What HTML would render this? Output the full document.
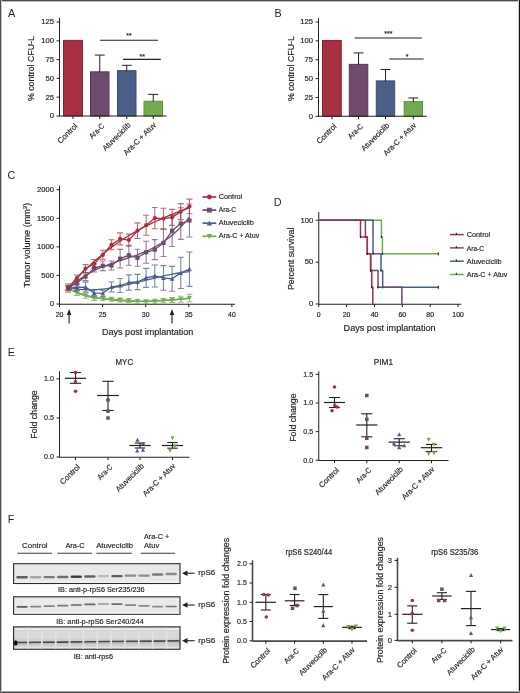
<!DOCTYPE html>
<html><head><meta charset="utf-8"><style>
html,body{margin:0;padding:0;background:#fff;}
svg{display:block;will-change:transform;}
text{font-family:"Liberation Sans", sans-serif;stroke:#231f20;stroke-width:0.18px;}
</style></head><body>
<svg width="520" height="693" viewBox="0 0 520 693">
<defs><filter id="bl" x="-20%" y="-100%" width="140%" height="300%"><feGaussianBlur stdDeviation="0.45"/></filter></defs>
<rect x="0.00" y="0.00" width="520.00" height="693.00" fill="#ffffff" />
<line x1="0.00" y1="0.50" x2="520.00" y2="0.50" stroke="#4a4a4a" stroke-width="1" />
<line x1="0.00" y1="1.50" x2="520.00" y2="1.50" stroke="#bdbdbd" stroke-width="1" />
<line x1="0.50" y1="0.00" x2="0.50" y2="693.00" stroke="#505050" stroke-width="1" />
<line x1="1.50" y1="0.00" x2="1.50" y2="693.00" stroke="#c4c4c4" stroke-width="1" />
<line x1="519.50" y1="0.00" x2="519.50" y2="693.00" stroke="#111111" stroke-width="1" />
<line x1="518.50" y1="0.00" x2="518.50" y2="693.00" stroke="#cfcfcf" stroke-width="1" />
<line x1="0.00" y1="692.50" x2="520.00" y2="692.50" stroke="#4a4a4a" stroke-width="1" />
<line x1="0.00" y1="691.50" x2="520.00" y2="691.50" stroke="#a8a8a8" stroke-width="1" />
<text x="8.00" y="16.70" font-size="10.8" text-anchor="start" fill="#231f20" style="stroke:none">A</text>
<text x="274.60" y="16.70" font-size="10.8" text-anchor="start" fill="#231f20" style="stroke:none">B</text>
<text x="7.60" y="179.20" font-size="10.8" text-anchor="start" fill="#231f20" style="stroke:none">C</text>
<text x="273.80" y="206.40" font-size="10.8" text-anchor="start" fill="#231f20" style="stroke:none">D</text>
<text x="7.80" y="355.60" font-size="10.8" text-anchor="start" fill="#231f20" style="stroke:none">E</text>
<text x="7.80" y="522.80" font-size="10.8" text-anchor="start" fill="#231f20" style="stroke:none">F</text>
<line x1="59.50" y1="18.00" x2="59.50" y2="116.50" stroke="#231f20" stroke-width="1" />
<line x1="56.50" y1="116.00" x2="59.50" y2="116.00" stroke="#231f20" stroke-width="1" />
<text x="53.90" y="118.30" font-size="7.8" text-anchor="end" fill="#231f20" textLength="4.25" lengthAdjust="spacingAndGlyphs" >0</text>
<line x1="56.50" y1="97.20" x2="59.50" y2="97.20" stroke="#231f20" stroke-width="1" />
<text x="53.90" y="99.50" font-size="7.8" text-anchor="end" fill="#231f20" textLength="8.50" lengthAdjust="spacingAndGlyphs" >25</text>
<line x1="56.50" y1="78.40" x2="59.50" y2="78.40" stroke="#231f20" stroke-width="1" />
<text x="53.90" y="80.70" font-size="7.8" text-anchor="end" fill="#231f20" textLength="8.50" lengthAdjust="spacingAndGlyphs" >50</text>
<line x1="56.50" y1="59.60" x2="59.50" y2="59.60" stroke="#231f20" stroke-width="1" />
<text x="53.90" y="61.90" font-size="7.8" text-anchor="end" fill="#231f20" textLength="8.50" lengthAdjust="spacingAndGlyphs" >75</text>
<line x1="56.50" y1="40.80" x2="59.50" y2="40.80" stroke="#231f20" stroke-width="1" />
<text x="53.90" y="43.10" font-size="7.8" text-anchor="end" fill="#231f20" textLength="12.75" lengthAdjust="spacingAndGlyphs" >100</text>
<line x1="56.50" y1="22.00" x2="59.50" y2="22.00" stroke="#231f20" stroke-width="1" />
<text x="53.90" y="24.30" font-size="7.8" text-anchor="end" fill="#231f20" textLength="12.75" lengthAdjust="spacingAndGlyphs" >125</text>
<rect x="63.50" y="40.40" width="19.00" height="75.60" fill="#a6303f" stroke="#8c2236" stroke-width="1" />
<line x1="73.00" y1="116.00" x2="73.00" y2="119.00" stroke="#231f20" stroke-width="1" />
<rect x="90.50" y="71.83" width="18.50" height="44.17" fill="#6e4a6c" stroke="#573553" stroke-width="1" />
<line x1="99.75" y1="55.09" x2="99.75" y2="72.23" stroke="#231f20" stroke-width="1" />
<line x1="94.75" y1="55.09" x2="104.75" y2="55.09" stroke="#231f20" stroke-width="1" />
<line x1="99.75" y1="116.00" x2="99.75" y2="119.00" stroke="#231f20" stroke-width="1" />
<rect x="117.50" y="70.63" width="18.50" height="45.37" fill="#4a6088" stroke="#3a4d72" stroke-width="1" />
<line x1="126.75" y1="65.32" x2="126.75" y2="71.03" stroke="#231f20" stroke-width="1" />
<line x1="121.75" y1="65.32" x2="131.75" y2="65.32" stroke="#231f20" stroke-width="1" />
<line x1="126.75" y1="116.00" x2="126.75" y2="119.00" stroke="#231f20" stroke-width="1" />
<rect x="144.00" y="101.24" width="18.50" height="14.76" fill="#72ab4f" stroke="#5e9240" stroke-width="1" />
<line x1="153.25" y1="94.34" x2="153.25" y2="101.64" stroke="#231f20" stroke-width="1" />
<line x1="148.25" y1="94.34" x2="158.25" y2="94.34" stroke="#231f20" stroke-width="1" />
<line x1="153.25" y1="116.00" x2="153.25" y2="119.00" stroke="#231f20" stroke-width="1" />
<line x1="59.50" y1="116.00" x2="166.70" y2="116.00" stroke="#231f20" stroke-width="1.1" />
<line x1="100.00" y1="40.20" x2="158.00" y2="40.20" stroke="#231f20" stroke-width="1.1" />
<text x="129.00" y="38.10" font-size="7" text-anchor="middle" fill="#231f20" >**</text>
<line x1="123.00" y1="59.40" x2="160.80" y2="59.40" stroke="#231f20" stroke-width="1.1" />
<text x="142.30" y="59.10" font-size="7" text-anchor="middle" fill="#231f20" >**</text>
<text x="34.50" y="68.60" font-size="8.6" text-anchor="middle" fill="#231f20" textLength="65.00" lengthAdjust="spacingAndGlyphs" transform="rotate(-90 34.50 68.60)" >% control CFU-L</text>
<text x="78.00" y="126.60" font-size="7.7" text-anchor="end" fill="#231f20" textLength="24.60" lengthAdjust="spacingAndGlyphs" transform="rotate(-45 78.00 126.60)" >Control</text>
<text x="104.75" y="126.60" font-size="7.7" text-anchor="end" fill="#231f20" textLength="17.80" lengthAdjust="spacingAndGlyphs" transform="rotate(-45 104.75 126.60)" >Ara-C</text>
<text x="131.15" y="125.60" font-size="7.7" text-anchor="end" fill="#231f20" textLength="36.30" lengthAdjust="spacingAndGlyphs" transform="rotate(-45 131.15 125.60)" >Atuveciclib</text>
<text x="156.65" y="125.60" font-size="7.7" text-anchor="end" fill="#231f20" textLength="42.80" lengthAdjust="spacingAndGlyphs" transform="rotate(-45 156.65 125.60)" >Ara-C + Atuv</text>
<line x1="318.50" y1="18.00" x2="318.50" y2="116.80" stroke="#231f20" stroke-width="1" />
<line x1="315.50" y1="116.30" x2="318.50" y2="116.30" stroke="#231f20" stroke-width="1" />
<text x="312.90" y="118.60" font-size="7.8" text-anchor="end" fill="#231f20" textLength="4.25" lengthAdjust="spacingAndGlyphs" >0</text>
<line x1="315.50" y1="97.44" x2="318.50" y2="97.44" stroke="#231f20" stroke-width="1" />
<text x="312.90" y="99.74" font-size="7.8" text-anchor="end" fill="#231f20" textLength="8.50" lengthAdjust="spacingAndGlyphs" >25</text>
<line x1="315.50" y1="78.58" x2="318.50" y2="78.58" stroke="#231f20" stroke-width="1" />
<text x="312.90" y="80.88" font-size="7.8" text-anchor="end" fill="#231f20" textLength="8.50" lengthAdjust="spacingAndGlyphs" >50</text>
<line x1="315.50" y1="59.72" x2="318.50" y2="59.72" stroke="#231f20" stroke-width="1" />
<text x="312.90" y="62.02" font-size="7.8" text-anchor="end" fill="#231f20" textLength="8.50" lengthAdjust="spacingAndGlyphs" >75</text>
<line x1="315.50" y1="40.86" x2="318.50" y2="40.86" stroke="#231f20" stroke-width="1" />
<text x="312.90" y="43.16" font-size="7.8" text-anchor="end" fill="#231f20" textLength="12.75" lengthAdjust="spacingAndGlyphs" >100</text>
<line x1="315.50" y1="22.00" x2="318.50" y2="22.00" stroke="#231f20" stroke-width="1" />
<text x="312.90" y="24.30" font-size="7.8" text-anchor="end" fill="#231f20" textLength="12.75" lengthAdjust="spacingAndGlyphs" >125</text>
<rect x="322.50" y="40.46" width="18.80" height="75.84" fill="#a6303f" stroke="#8c2236" stroke-width="1" />
<line x1="331.90" y1="116.30" x2="331.90" y2="119.30" stroke="#231f20" stroke-width="1" />
<rect x="349.30" y="64.37" width="18.50" height="51.93" fill="#6e4a6c" stroke="#573553" stroke-width="1" />
<line x1="358.55" y1="52.93" x2="358.55" y2="64.77" stroke="#231f20" stroke-width="1" />
<line x1="353.55" y1="52.93" x2="363.55" y2="52.93" stroke="#231f20" stroke-width="1" />
<line x1="358.55" y1="116.30" x2="358.55" y2="119.30" stroke="#231f20" stroke-width="1" />
<rect x="376.30" y="80.90" width="18.40" height="35.40" fill="#4a6088" stroke="#3a4d72" stroke-width="1" />
<line x1="385.50" y1="69.53" x2="385.50" y2="81.30" stroke="#231f20" stroke-width="1" />
<line x1="380.50" y1="69.53" x2="390.50" y2="69.53" stroke="#231f20" stroke-width="1" />
<line x1="385.50" y1="116.30" x2="385.50" y2="119.30" stroke="#231f20" stroke-width="1" />
<rect x="404.20" y="101.64" width="18.30" height="14.66" fill="#72ab4f" stroke="#5e9240" stroke-width="1" />
<line x1="413.35" y1="97.97" x2="413.35" y2="102.04" stroke="#231f20" stroke-width="1" />
<line x1="408.35" y1="97.97" x2="418.35" y2="97.97" stroke="#231f20" stroke-width="1" />
<line x1="413.35" y1="116.30" x2="413.35" y2="119.30" stroke="#231f20" stroke-width="1" />
<line x1="318.50" y1="116.30" x2="426.70" y2="116.30" stroke="#231f20" stroke-width="1.1" />
<line x1="354.50" y1="38.00" x2="422.00" y2="38.00" stroke="#231f20" stroke-width="1.1" />
<text x="388.30" y="35.90" font-size="7" text-anchor="middle" fill="#231f20" >***</text>
<line x1="389.20" y1="59.00" x2="423.60" y2="59.00" stroke="#231f20" stroke-width="1.1" />
<text x="407.00" y="58.70" font-size="7" text-anchor="middle" fill="#231f20" >*</text>
<text x="293.60" y="68.60" font-size="8.6" text-anchor="middle" fill="#231f20" textLength="65.00" lengthAdjust="spacingAndGlyphs" transform="rotate(-90 293.60 68.60)" >% control CFU-L</text>
<text x="336.90" y="126.90" font-size="7.7" text-anchor="end" fill="#231f20" textLength="24.60" lengthAdjust="spacingAndGlyphs" transform="rotate(-45 336.90 126.90)" >Control</text>
<text x="363.55" y="126.90" font-size="7.7" text-anchor="end" fill="#231f20" textLength="17.80" lengthAdjust="spacingAndGlyphs" transform="rotate(-45 363.55 126.90)" >Ara-C</text>
<text x="389.90" y="125.90" font-size="7.7" text-anchor="end" fill="#231f20" textLength="36.30" lengthAdjust="spacingAndGlyphs" transform="rotate(-45 389.90 125.90)" >Atuveciclib</text>
<text x="416.75" y="125.90" font-size="7.7" text-anchor="end" fill="#231f20" textLength="42.80" lengthAdjust="spacingAndGlyphs" transform="rotate(-45 416.75 125.90)" >Ara-C + Atuv</text>
<line x1="59.50" y1="185.80" x2="59.50" y2="304.50" stroke="#231f20" stroke-width="1" />
<line x1="56.50" y1="304.00" x2="59.50" y2="304.00" stroke="#231f20" stroke-width="1" />
<text x="53.90" y="306.30" font-size="7.8" text-anchor="end" fill="#231f20" textLength="4.25" lengthAdjust="spacingAndGlyphs" >0</text>
<line x1="56.50" y1="275.42" x2="59.50" y2="275.42" stroke="#231f20" stroke-width="1" />
<text x="53.90" y="277.72" font-size="7.8" text-anchor="end" fill="#231f20" textLength="12.75" lengthAdjust="spacingAndGlyphs" >500</text>
<line x1="56.50" y1="246.83" x2="59.50" y2="246.83" stroke="#231f20" stroke-width="1" />
<text x="53.90" y="249.13" font-size="7.8" text-anchor="end" fill="#231f20" textLength="17.00" lengthAdjust="spacingAndGlyphs" >1000</text>
<line x1="56.50" y1="218.25" x2="59.50" y2="218.25" stroke="#231f20" stroke-width="1" />
<text x="53.90" y="220.55" font-size="7.8" text-anchor="end" fill="#231f20" textLength="17.00" lengthAdjust="spacingAndGlyphs" >1500</text>
<line x1="56.50" y1="189.66" x2="59.50" y2="189.66" stroke="#231f20" stroke-width="1" />
<text x="53.90" y="191.96" font-size="7.8" text-anchor="end" fill="#231f20" textLength="17.00" lengthAdjust="spacingAndGlyphs" >2000</text>
<line x1="59.50" y1="304.30" x2="235.00" y2="304.30" stroke="#231f20" stroke-width="1.1" />
<line x1="59.50" y1="304.00" x2="59.50" y2="307.00" stroke="#231f20" stroke-width="1" />
<text x="59.50" y="317.20" font-size="6.9" text-anchor="middle" fill="#231f20" >20</text>
<line x1="102.60" y1="304.00" x2="102.60" y2="307.00" stroke="#231f20" stroke-width="1" />
<text x="102.60" y="317.20" font-size="6.9" text-anchor="middle" fill="#231f20" >25</text>
<line x1="145.70" y1="304.00" x2="145.70" y2="307.00" stroke="#231f20" stroke-width="1" />
<text x="145.70" y="317.20" font-size="6.9" text-anchor="middle" fill="#231f20" >30</text>
<line x1="188.80" y1="304.00" x2="188.80" y2="307.00" stroke="#231f20" stroke-width="1" />
<text x="188.80" y="317.20" font-size="6.9" text-anchor="middle" fill="#231f20" >35</text>
<line x1="231.90" y1="304.00" x2="231.90" y2="307.00" stroke="#231f20" stroke-width="1" />
<text x="231.90" y="317.20" font-size="6.9" text-anchor="middle" fill="#231f20" >40</text>
<text x="147.70" y="335.20" font-size="9.0" text-anchor="middle" fill="#231f20" textLength="91.30" lengthAdjust="spacingAndGlyphs" >Days post implantation</text>
<text x="30.20" y="245.20" font-size="9.3" text-anchor="middle" fill="#231f20" textLength="84.50" lengthAdjust="spacingAndGlyphs" transform="rotate(-90 30.20 245.20)" >Tumor volume (mm<tspan font-size="6" dy="-3.6">3</tspan><tspan dy="3.6">)</tspan></text>
<line x1="69.10" y1="314.00" x2="69.10" y2="323.50" stroke="#231f20" stroke-width="1.1" />
<polygon points="69.10,309 71.40,315 66.80,315" fill="#231f20"/>
<line x1="172.00" y1="314.00" x2="172.00" y2="323.50" stroke="#231f20" stroke-width="1.1" />
<polygon points="172.00,309 174.30,315 169.70,315" fill="#231f20"/>
<path d="M68.20,283.50V292.50M65.20,283.50H71.20M65.20,292.50H71.20" stroke="rgba(114,171,79,0.75)" stroke-width="1.1" fill="none"/>
<path d="M76.86,290.40V295.40M73.86,290.40H79.86M73.86,295.40H79.86" stroke="rgba(114,171,79,0.75)" stroke-width="1.1" fill="none"/>
<path d="M85.52,293.30V298.30M82.52,293.30H88.52M82.52,298.30H88.52" stroke="rgba(114,171,79,0.75)" stroke-width="1.1" fill="none"/>
<path d="M94.18,296.00V300.40M91.18,296.00H97.18M91.18,300.40H97.18" stroke="rgba(114,171,79,0.75)" stroke-width="1.1" fill="none"/>
<path d="M102.84,296.70V300.70M99.84,296.70H105.84M99.84,300.70H105.84" stroke="rgba(114,171,79,0.75)" stroke-width="1.1" fill="none"/>
<path d="M111.50,297.20V301.20M108.50,297.20H114.50M108.50,301.20H114.50" stroke="rgba(114,171,79,0.75)" stroke-width="1.1" fill="none"/>
<path d="M120.16,298.00V302.00M117.16,298.00H123.16M117.16,302.00H123.16" stroke="rgba(114,171,79,0.75)" stroke-width="1.1" fill="none"/>
<path d="M128.82,298.50V302.50M125.82,298.50H131.82M125.82,302.50H131.82" stroke="rgba(114,171,79,0.75)" stroke-width="1.1" fill="none"/>
<path d="M137.48,299.20V303.20M134.48,299.20H140.48M134.48,303.20H140.48" stroke="rgba(114,171,79,0.75)" stroke-width="1.1" fill="none"/>
<path d="M146.14,299.70V303.70M143.14,299.70H149.14M143.14,303.70H149.14" stroke="rgba(114,171,79,0.75)" stroke-width="1.1" fill="none"/>
<path d="M154.80,299.20V303.20M151.80,299.20H157.80M151.80,303.20H157.80" stroke="rgba(114,171,79,0.75)" stroke-width="1.1" fill="none"/>
<path d="M163.46,298.30V302.70M160.46,298.30H166.46M160.46,302.70H166.46" stroke="rgba(114,171,79,0.75)" stroke-width="1.1" fill="none"/>
<path d="M172.12,297.50V302.50M169.12,297.50H175.12M169.12,302.50H175.12" stroke="rgba(114,171,79,0.75)" stroke-width="1.1" fill="none"/>
<path d="M180.78,296.20V302.20M177.78,296.20H183.78M177.78,302.20H183.78" stroke="rgba(114,171,79,0.75)" stroke-width="1.1" fill="none"/>
<path d="M189.44,294.20V301.80M186.44,294.20H192.44M186.44,301.80H192.44" stroke="rgba(114,171,79,0.75)" stroke-width="1.1" fill="none"/>
<polyline points="68.20,288.00 70.25,289.85 72.31,290.66 74.36,291.43 76.42,292.17 78.47,292.87 80.53,293.54 82.58,294.17 84.64,294.77 86.69,295.35 88.75,295.89 90.80,296.39 92.86,296.87 94.91,297.33 96.97,297.75 99.02,298.14 101.08,298.51 103.13,298.85 105.19,299.17 107.24,299.46 109.30,299.73 111.35,299.97 113.41,300.19 115.46,300.39 117.52,300.56 119.57,300.72 121.63,300.85 123.68,300.97 125.74,301.07 127.79,301.15 129.85,301.21 131.90,301.25 133.96,301.28 136.01,301.29 138.07,301.29 140.12,301.28 142.18,301.25 144.23,301.21 146.29,301.15 148.34,301.09 150.40,301.01 152.45,300.93 154.51,300.83 156.56,300.73 158.62,300.61 160.67,300.50 162.73,300.37 164.78,300.24 166.84,300.10 168.89,299.96 170.95,299.81 173.00,299.67 175.06,299.51 177.11,299.36 179.17,299.21 181.22,299.05 183.28,298.90 185.33,298.74 187.39,298.59 189.44,298.44" fill="none" stroke="#72ab4f" stroke-width="1.3" stroke-linejoin="round" />
<polyline points="68.20,288.00 76.86,292.90 85.52,295.80 94.18,298.20 102.84,298.70 111.50,299.20 120.16,300.00 128.82,300.50 137.48,301.20 146.14,301.70 154.80,301.20 163.46,300.50 172.12,300.00 180.78,299.20 189.44,298.00" fill="none" stroke="#72ab4f" stroke-width="1.3" stroke-linejoin="round" />
<polygon points="68.20,290.42 70.51,285.95 65.89,285.95" fill="#72ab4f"/>
<polygon points="76.86,295.31 79.17,290.85 74.55,290.85" fill="#72ab4f"/>
<polygon points="85.52,298.22 87.83,293.75 83.21,293.75" fill="#72ab4f"/>
<polygon points="94.18,300.62 96.49,296.15 91.87,296.15" fill="#72ab4f"/>
<polygon points="102.84,301.12 105.15,296.65 100.53,296.65" fill="#72ab4f"/>
<polygon points="111.50,301.62 113.81,297.15 109.19,297.15" fill="#72ab4f"/>
<polygon points="120.16,302.42 122.47,297.95 117.85,297.95" fill="#72ab4f"/>
<polygon points="128.82,302.92 131.13,298.45 126.51,298.45" fill="#72ab4f"/>
<polygon points="137.48,303.62 139.79,299.15 135.17,299.15" fill="#72ab4f"/>
<polygon points="146.14,304.12 148.45,299.65 143.83,299.65" fill="#72ab4f"/>
<polygon points="154.80,303.62 157.11,299.15 152.49,299.15" fill="#72ab4f"/>
<polygon points="163.46,302.92 165.77,298.45 161.15,298.45" fill="#72ab4f"/>
<polygon points="172.12,302.42 174.43,297.95 169.81,297.95" fill="#72ab4f"/>
<polygon points="180.78,301.62 183.09,297.15 178.47,297.15" fill="#72ab4f"/>
<polygon points="189.44,300.42 191.75,295.95 187.13,295.95" fill="#72ab4f"/>
<path d="M68.20,285.00V291.00M65.20,285.00H71.20M65.20,291.00H71.20" stroke="rgba(74,96,136,0.75)" stroke-width="1.1" fill="none"/>
<path d="M76.86,283.90V290.90M73.86,283.90H79.86M73.86,290.90H79.86" stroke="rgba(74,96,136,0.75)" stroke-width="1.1" fill="none"/>
<path d="M85.52,282.10V292.10M82.52,282.10H88.52M82.52,292.10H88.52" stroke="rgba(74,96,136,0.75)" stroke-width="1.1" fill="none"/>
<path d="M94.18,289.90V295.90M91.18,289.90H97.18M91.18,295.90H97.18" stroke="rgba(74,96,136,0.75)" stroke-width="1.1" fill="none"/>
<path d="M102.84,290.30V296.30M99.84,290.30H105.84M99.84,296.30H105.84" stroke="rgba(74,96,136,0.75)" stroke-width="1.1" fill="none"/>
<path d="M111.50,282.00V292.00M108.50,282.00H114.50M108.50,292.00H114.50" stroke="rgba(74,96,136,0.75)" stroke-width="1.1" fill="none"/>
<path d="M120.16,278.50V292.50M117.16,278.50H123.16M117.16,292.50H123.16" stroke="rgba(74,96,136,0.75)" stroke-width="1.1" fill="none"/>
<path d="M128.82,274.90V290.10M125.82,274.90H131.82M125.82,290.10H131.82" stroke="rgba(74,96,136,0.75)" stroke-width="1.1" fill="none"/>
<path d="M137.48,274.40V289.60M134.48,274.40H140.48M134.48,289.60H140.48" stroke="rgba(74,96,136,0.75)" stroke-width="1.1" fill="none"/>
<path d="M146.14,268.40V287.40M143.14,268.40H149.14M143.14,287.40H149.14" stroke="rgba(74,96,136,0.75)" stroke-width="1.1" fill="none"/>
<path d="M154.80,265.00V287.00M151.80,265.00H157.80M151.80,287.00H157.80" stroke="rgba(74,96,136,0.75)" stroke-width="1.1" fill="none"/>
<path d="M163.46,265.60V290.20M160.46,265.60H166.46M160.46,290.20H166.46" stroke="rgba(74,96,136,0.75)" stroke-width="1.1" fill="none"/>
<path d="M172.12,266.40V291.20M169.12,266.40H175.12M169.12,291.20H175.12" stroke="rgba(74,96,136,0.75)" stroke-width="1.1" fill="none"/>
<path d="M180.78,257.30V288.50M177.78,257.30H183.78M177.78,288.50H183.78" stroke="rgba(74,96,136,0.75)" stroke-width="1.1" fill="none"/>
<path d="M189.44,252.00V286.40M186.44,252.00H192.44M186.44,286.40H192.44" stroke="rgba(74,96,136,0.75)" stroke-width="1.1" fill="none"/>
<polyline points="68.20,288.00 70.25,287.87 72.31,288.27 74.36,288.62 76.42,288.93 78.47,289.18 80.53,289.39 82.58,289.55 84.64,289.67 86.69,289.75 88.75,289.79 90.80,289.79 92.86,289.75 94.91,289.67 96.97,289.56 99.02,289.41 101.08,289.23 103.13,289.03 105.19,288.79 107.24,288.52 109.30,288.23 111.35,287.92 113.41,287.58 115.46,287.21 117.52,286.83 119.57,286.43 121.63,286.01 123.68,285.58 125.74,285.13 127.79,284.66 129.85,284.19 131.90,283.70 133.96,283.20 136.01,282.70 138.07,282.19 140.12,281.68 142.18,281.16 144.23,280.64 146.29,280.12 148.34,279.60 150.40,279.09 152.45,278.57 154.51,278.07 156.56,277.56 158.62,277.07 160.67,276.59 162.73,276.12 164.78,275.66 166.84,275.21 168.89,274.78 170.95,274.37 173.00,273.98 175.06,273.60 177.11,273.25 179.17,272.92 181.22,272.61 183.28,272.33 185.33,272.07 187.39,271.84 189.44,271.65" fill="none" stroke="#4a6088" stroke-width="1.3" stroke-linejoin="round" />
<polyline points="68.20,288.00 76.86,287.40 85.52,287.10 94.18,292.90 102.84,293.30 111.50,287.00 120.16,285.50 128.82,282.50 137.48,282.00 146.14,277.90 154.80,276.00 163.46,277.90 172.12,278.80 180.78,272.90 189.44,269.20" fill="none" stroke="#4a6088" stroke-width="1.3" stroke-linejoin="round" />
<polygon points="68.20,285.58 70.51,290.05 65.89,290.05" fill="#4a6088"/>
<polygon points="76.86,284.98 79.17,289.45 74.55,289.45" fill="#4a6088"/>
<polygon points="85.52,284.69 87.83,289.15 83.21,289.15" fill="#4a6088"/>
<polygon points="94.18,290.48 96.49,294.95 91.87,294.95" fill="#4a6088"/>
<polygon points="102.84,290.88 105.15,295.35 100.53,295.35" fill="#4a6088"/>
<polygon points="111.50,284.58 113.81,289.05 109.19,289.05" fill="#4a6088"/>
<polygon points="120.16,283.08 122.47,287.55 117.85,287.55" fill="#4a6088"/>
<polygon points="128.82,280.08 131.13,284.55 126.51,284.55" fill="#4a6088"/>
<polygon points="137.48,279.58 139.79,284.05 135.17,284.05" fill="#4a6088"/>
<polygon points="146.14,275.48 148.45,279.95 143.83,279.95" fill="#4a6088"/>
<polygon points="154.80,273.58 157.11,278.05 152.49,278.05" fill="#4a6088"/>
<polygon points="163.46,275.48 165.77,279.95 161.15,279.95" fill="#4a6088"/>
<polygon points="172.12,276.38 174.43,280.85 169.81,280.85" fill="#4a6088"/>
<polygon points="180.78,270.48 183.09,274.95 178.47,274.95" fill="#4a6088"/>
<polygon points="189.44,266.78 191.75,271.25 187.13,271.25" fill="#4a6088"/>
<path d="M68.20,286.00V290.00M65.20,286.00H71.20M65.20,290.00H71.20" stroke="rgba(108,70,104,0.7)" stroke-width="1.1" fill="none"/>
<path d="M76.86,280.00V286.00M73.86,280.00H79.86M73.86,286.00H79.86" stroke="rgba(108,70,104,0.7)" stroke-width="1.1" fill="none"/>
<path d="M85.52,272.60V280.60M82.52,272.60H88.52M82.52,280.60H88.52" stroke="rgba(108,70,104,0.7)" stroke-width="1.1" fill="none"/>
<path d="M94.18,264.00V272.00M91.18,264.00H97.18M91.18,272.00H97.18" stroke="rgba(108,70,104,0.7)" stroke-width="1.1" fill="none"/>
<path d="M102.84,261.00V270.60M99.84,261.00H105.84M99.84,270.60H105.84" stroke="rgba(108,70,104,0.7)" stroke-width="1.1" fill="none"/>
<path d="M111.50,261.00V270.00M108.50,261.00H114.50M108.50,270.00H114.50" stroke="rgba(108,70,104,0.7)" stroke-width="1.1" fill="none"/>
<path d="M120.16,249.40V268.00M117.16,249.40H123.16M117.16,268.00H123.16" stroke="rgba(108,70,104,0.7)" stroke-width="1.1" fill="none"/>
<path d="M128.82,245.30V265.30M125.82,245.30H131.82M125.82,265.30H131.82" stroke="rgba(108,70,104,0.7)" stroke-width="1.1" fill="none"/>
<path d="M137.48,249.30V266.30M134.48,249.30H140.48M134.48,266.30H140.48" stroke="rgba(108,70,104,0.7)" stroke-width="1.1" fill="none"/>
<path d="M146.14,241.30V263.30M143.14,241.30H149.14M143.14,263.30H149.14" stroke="rgba(108,70,104,0.7)" stroke-width="1.1" fill="none"/>
<path d="M154.80,239.60V259.60M151.80,239.60H157.80M151.80,259.60H157.80" stroke="rgba(108,70,104,0.7)" stroke-width="1.1" fill="none"/>
<path d="M163.46,229.30V256.50M160.46,229.30H166.46M160.46,256.50H166.46" stroke="rgba(108,70,104,0.7)" stroke-width="1.1" fill="none"/>
<path d="M172.12,215.10V246.50M169.12,215.10H175.12M169.12,246.50H175.12" stroke="rgba(108,70,104,0.7)" stroke-width="1.1" fill="none"/>
<path d="M180.78,207.80V239.40M177.78,207.80H183.78M177.78,239.40H183.78" stroke="rgba(108,70,104,0.7)" stroke-width="1.1" fill="none"/>
<path d="M189.44,204.00V237.00M186.44,204.00H192.44M186.44,237.00H192.44" stroke="rgba(108,70,104,0.7)" stroke-width="1.1" fill="none"/>
<polyline points="68.20,288.00 70.25,286.85 72.31,285.03 74.36,283.31 76.42,281.67 78.47,280.12 80.53,278.65 82.58,277.25 84.64,275.92 86.69,274.66 88.75,273.46 90.80,272.33 92.86,271.25 94.91,270.23 96.97,269.25 99.02,268.32 101.08,267.44 103.13,266.59 105.19,265.78 107.24,265.00 109.30,264.24 111.35,263.51 113.41,262.80 115.46,262.11 117.52,261.43 119.57,260.76 121.63,260.09 123.68,259.43 125.74,258.76 127.79,258.09 129.85,257.41 131.90,256.71 133.96,256.00 136.01,255.27 138.07,254.52 140.12,253.73 142.18,252.92 144.23,252.07 146.29,251.18 148.34,250.25 150.40,249.27 152.45,248.24 154.51,247.16 156.56,246.02 158.62,244.82 160.67,243.56 162.73,242.22 164.78,240.82 166.84,239.34 168.89,237.78 170.95,236.13 173.00,234.40 175.06,232.58 177.11,230.67 179.17,228.66 181.22,226.54 183.28,224.32 185.33,221.99 187.39,219.55 189.44,217.00" fill="none" stroke="#6e4a6c" stroke-width="1.3" stroke-linejoin="round" />
<polyline points="68.20,288.00 76.86,283.00 85.52,276.60 94.18,268.00 102.84,265.80 111.50,265.50 120.16,258.70 128.82,255.30 137.48,257.80 146.14,252.30 154.80,249.60 163.46,242.90 172.12,230.80 180.78,223.60 189.44,220.50" fill="none" stroke="#6e4a6c" stroke-width="1.3" stroke-linejoin="round" />
<rect x="66.10" y="285.90" width="4.20" height="4.20" fill="#6e4a6c"/>
<rect x="74.76" y="280.90" width="4.20" height="4.20" fill="#6e4a6c"/>
<rect x="83.42" y="274.50" width="4.20" height="4.20" fill="#6e4a6c"/>
<rect x="92.08" y="265.90" width="4.20" height="4.20" fill="#6e4a6c"/>
<rect x="100.74" y="263.70" width="4.20" height="4.20" fill="#6e4a6c"/>
<rect x="109.40" y="263.40" width="4.20" height="4.20" fill="#6e4a6c"/>
<rect x="118.06" y="256.60" width="4.20" height="4.20" fill="#6e4a6c"/>
<rect x="126.72" y="253.20" width="4.20" height="4.20" fill="#6e4a6c"/>
<rect x="135.38" y="255.70" width="4.20" height="4.20" fill="#6e4a6c"/>
<rect x="144.04" y="250.20" width="4.20" height="4.20" fill="#6e4a6c"/>
<rect x="152.70" y="247.50" width="4.20" height="4.20" fill="#6e4a6c"/>
<rect x="161.36" y="240.80" width="4.20" height="4.20" fill="#6e4a6c"/>
<rect x="170.02" y="228.70" width="4.20" height="4.20" fill="#6e4a6c"/>
<rect x="178.68" y="221.50" width="4.20" height="4.20" fill="#6e4a6c"/>
<rect x="187.34" y="218.40" width="4.20" height="4.20" fill="#6e4a6c"/>
<path d="M68.20,286.00V290.00M65.20,286.00H71.20M65.20,290.00H71.20" stroke="rgba(163,45,66,0.7)" stroke-width="1.1" fill="none"/>
<path d="M76.86,275.00V281.00M73.86,275.00H79.86M73.86,281.00H79.86" stroke="rgba(163,45,66,0.7)" stroke-width="1.1" fill="none"/>
<path d="M85.52,264.60V272.60M82.52,264.60H88.52M82.52,272.60H88.52" stroke="rgba(163,45,66,0.7)" stroke-width="1.1" fill="none"/>
<path d="M94.18,259.50V268.50M91.18,259.50H97.18M91.18,268.50H97.18" stroke="rgba(163,45,66,0.7)" stroke-width="1.1" fill="none"/>
<path d="M102.84,250.30V259.30M99.84,250.30H105.84M99.84,259.30H105.84" stroke="rgba(163,45,66,0.7)" stroke-width="1.1" fill="none"/>
<path d="M111.50,239.80V249.80M108.50,239.80H114.50M108.50,249.80H114.50" stroke="rgba(163,45,66,0.7)" stroke-width="1.1" fill="none"/>
<path d="M120.16,232.90V244.90M117.16,232.90H123.16M117.16,244.90H123.16" stroke="rgba(163,45,66,0.7)" stroke-width="1.1" fill="none"/>
<path d="M128.82,234.10V246.10M125.82,234.10H131.82M125.82,246.10H131.82" stroke="rgba(163,45,66,0.7)" stroke-width="1.1" fill="none"/>
<path d="M137.48,222.90V238.50M134.48,222.90H140.48M134.48,238.50H140.48" stroke="rgba(163,45,66,0.7)" stroke-width="1.1" fill="none"/>
<path d="M146.14,215.20V235.20M143.14,215.20H149.14M143.14,235.20H149.14" stroke="rgba(163,45,66,0.7)" stroke-width="1.1" fill="none"/>
<path d="M154.80,207.50V228.70M151.80,207.50H157.80M151.80,228.70H157.80" stroke="rgba(163,45,66,0.7)" stroke-width="1.1" fill="none"/>
<path d="M163.46,208.30V228.90M160.46,208.30H166.46M160.46,228.90H166.46" stroke="rgba(163,45,66,0.7)" stroke-width="1.1" fill="none"/>
<path d="M172.12,209.40V225.40M169.12,209.40H175.12M169.12,225.40H175.12" stroke="rgba(163,45,66,0.7)" stroke-width="1.1" fill="none"/>
<path d="M180.78,203.60V219.60M177.78,203.60H183.78M177.78,219.60H183.78" stroke="rgba(163,45,66,0.7)" stroke-width="1.1" fill="none"/>
<path d="M189.44,199.10V213.70M186.44,199.10H192.44M186.44,213.70H192.44" stroke="rgba(163,45,66,0.7)" stroke-width="1.1" fill="none"/>
<polyline points="68.20,288.00 70.25,285.68 72.31,283.35 74.36,281.06 76.42,278.83 78.47,276.64 80.53,274.50 82.58,272.40 84.64,270.35 86.69,268.34 88.75,266.37 90.80,264.45 92.86,262.57 94.91,260.73 96.97,258.94 99.02,257.18 101.08,255.46 103.13,253.78 105.19,252.13 107.24,250.53 109.30,248.95 111.35,247.42 113.41,245.92 115.46,244.45 117.52,243.01 119.57,241.61 121.63,240.24 123.68,238.90 125.74,237.59 127.79,236.31 129.85,235.06 131.90,233.83 133.96,232.63 136.01,231.46 138.07,230.32 140.12,229.20 142.18,228.10 144.23,227.03 146.29,225.97 148.34,224.95 150.40,223.94 152.45,222.95 154.51,221.98 156.56,221.03 158.62,220.10 160.67,219.19 162.73,218.29 164.78,217.41 166.84,216.54 168.89,215.69 170.95,214.85 173.00,214.03 175.06,213.21 177.11,212.41 179.17,211.62 181.22,210.84 183.28,210.07 185.33,209.30 187.39,208.55 189.44,207.80" fill="none" stroke="#a6303f" stroke-width="1.3" stroke-linejoin="round" />
<polyline points="68.20,288.00 76.86,278.00 85.52,268.60 94.18,264.00 102.84,254.80 111.50,244.80 120.16,238.90 128.82,240.10 137.48,230.70 146.14,225.20 154.80,218.10 163.46,218.60 172.12,217.40 180.78,211.60 189.44,206.40" fill="none" stroke="#a6303f" stroke-width="1.3" stroke-linejoin="round" />
<circle cx="68.20" cy="288.00" r="2.10" fill="#a6303f"/>
<circle cx="76.86" cy="278.00" r="2.10" fill="#a6303f"/>
<circle cx="85.52" cy="268.60" r="2.10" fill="#a6303f"/>
<circle cx="94.18" cy="264.00" r="2.10" fill="#a6303f"/>
<circle cx="102.84" cy="254.80" r="2.10" fill="#a6303f"/>
<circle cx="111.50" cy="244.80" r="2.10" fill="#a6303f"/>
<circle cx="120.16" cy="238.90" r="2.10" fill="#a6303f"/>
<circle cx="128.82" cy="240.10" r="2.10" fill="#a6303f"/>
<circle cx="137.48" cy="230.70" r="2.10" fill="#a6303f"/>
<circle cx="146.14" cy="225.20" r="2.10" fill="#a6303f"/>
<circle cx="154.80" cy="218.10" r="2.10" fill="#a6303f"/>
<circle cx="163.46" cy="218.60" r="2.10" fill="#a6303f"/>
<circle cx="172.12" cy="217.40" r="2.10" fill="#a6303f"/>
<circle cx="180.78" cy="211.60" r="2.10" fill="#a6303f"/>
<circle cx="189.44" cy="206.40" r="2.10" fill="#a6303f"/>
<rect x="66.00" y="285.80" width="4.40" height="4.40" fill="#a6303f"/>
<line x1="202.50" y1="197.00" x2="216.30" y2="197.00" stroke="#a6303f" stroke-width="1.7" />
<circle cx="209.40" cy="197.00" r="2.40" fill="#a6303f"/>
<text x="218.80" y="199.10" font-size="7.6" text-anchor="start" fill="#231f20" textLength="23.40" lengthAdjust="spacingAndGlyphs" >Control</text>
<line x1="202.50" y1="210.10" x2="216.30" y2="210.10" stroke="#6e4a6c" stroke-width="1.7" />
<rect x="207.00" y="207.70" width="4.80" height="4.80" fill="#6e4a6c"/>
<text x="218.80" y="212.20" font-size="7.6" text-anchor="start" fill="#231f20" textLength="17.20" lengthAdjust="spacingAndGlyphs" >Ara-C</text>
<line x1="202.50" y1="223.20" x2="216.30" y2="223.20" stroke="#4a6088" stroke-width="1.7" />
<polygon points="209.40,220.44 212.04,225.55 206.76,225.55" fill="#4a6088"/>
<text x="218.80" y="225.30" font-size="7.6" text-anchor="start" fill="#231f20" textLength="35.00" lengthAdjust="spacingAndGlyphs" >Atuveciclib</text>
<line x1="202.50" y1="236.30" x2="216.30" y2="236.30" stroke="#72ab4f" stroke-width="1.7" />
<polygon points="209.40,239.06 212.04,233.95 206.76,233.95" fill="#72ab4f"/>
<text x="218.80" y="238.40" font-size="7.6" text-anchor="start" fill="#231f20" textLength="40.50" lengthAdjust="spacingAndGlyphs" >Ara-C + Atuv</text>
<line x1="318.75" y1="212.00" x2="318.75" y2="304.50" stroke="#231f20" stroke-width="1" />
<line x1="315.75" y1="304.00" x2="318.75" y2="304.00" stroke="#231f20" stroke-width="1" />
<text x="313.15" y="306.30" font-size="7.8" text-anchor="end" fill="#231f20" textLength="4.25" lengthAdjust="spacingAndGlyphs" >0</text>
<line x1="315.75" y1="262.12" x2="318.75" y2="262.12" stroke="#231f20" stroke-width="1" />
<text x="313.15" y="264.43" font-size="7.8" text-anchor="end" fill="#231f20" textLength="8.50" lengthAdjust="spacingAndGlyphs" >50</text>
<line x1="315.75" y1="220.25" x2="318.75" y2="220.25" stroke="#231f20" stroke-width="1" />
<text x="313.15" y="222.55" font-size="7.8" text-anchor="end" fill="#231f20" textLength="12.75" lengthAdjust="spacingAndGlyphs" >100</text>
<line x1="318.75" y1="304.30" x2="461.30" y2="304.30" stroke="#231f20" stroke-width="1.1" />
<line x1="318.75" y1="304.00" x2="318.75" y2="307.00" stroke="#231f20" stroke-width="1" />
<text x="318.75" y="317.20" font-size="6.9" text-anchor="middle" fill="#231f20" >0</text>
<line x1="346.61" y1="304.00" x2="346.61" y2="307.00" stroke="#231f20" stroke-width="1" />
<text x="346.61" y="317.20" font-size="6.9" text-anchor="middle" fill="#231f20" >20</text>
<line x1="374.47" y1="304.00" x2="374.47" y2="307.00" stroke="#231f20" stroke-width="1" />
<text x="374.47" y="317.20" font-size="6.9" text-anchor="middle" fill="#231f20" >40</text>
<line x1="402.33" y1="304.00" x2="402.33" y2="307.00" stroke="#231f20" stroke-width="1" />
<text x="402.33" y="317.20" font-size="6.9" text-anchor="middle" fill="#231f20" >60</text>
<line x1="430.19" y1="304.00" x2="430.19" y2="307.00" stroke="#231f20" stroke-width="1" />
<text x="430.19" y="317.20" font-size="6.9" text-anchor="middle" fill="#231f20" >80</text>
<line x1="458.05" y1="304.00" x2="458.05" y2="307.00" stroke="#231f20" stroke-width="1" />
<text x="458.05" y="317.20" font-size="6.9" text-anchor="middle" fill="#231f20" >100</text>
<text x="389.60" y="330.50" font-size="9.0" text-anchor="middle" fill="#231f20" textLength="92.00" lengthAdjust="spacingAndGlyphs" >Days post implantation</text>
<text x="294.50" y="258.80" font-size="8.3" text-anchor="middle" fill="#231f20" textLength="62.50" lengthAdjust="spacingAndGlyphs" transform="rotate(-90 294.50 258.80)" >Percent survival</text>
<polyline points="318.75,220.25 381.40,220.25 381.40,237.00 382.40,237.00 382.40,253.75 438.30,253.75" fill="none" stroke="#72ab4f" stroke-width="1.5" stroke-linejoin="miter"/>
<line x1="381.40" y1="235.80" x2="381.40" y2="238.20" stroke="#111" stroke-width="0.9" />
<line x1="382.40" y1="252.55" x2="382.40" y2="254.95" stroke="#111" stroke-width="0.9" />
<line x1="438.30" y1="252.25" x2="438.30" y2="255.25" stroke="#111" stroke-width="1" />
<polyline points="318.75,220.25 373.00,220.25 373.00,253.75 381.00,253.75 381.00,270.50 382.70,270.50 382.70,287.25 438.30,287.25" fill="none" stroke="#4a6088" stroke-width="1.5" stroke-linejoin="miter"/>
<line x1="373.00" y1="252.55" x2="373.00" y2="254.95" stroke="#111" stroke-width="0.9" />
<line x1="381.00" y1="269.30" x2="381.00" y2="271.70" stroke="#111" stroke-width="0.9" />
<line x1="382.70" y1="286.05" x2="382.70" y2="288.45" stroke="#111" stroke-width="0.9" />
<line x1="438.30" y1="285.75" x2="438.30" y2="288.75" stroke="#111" stroke-width="1" />
<polyline points="318.75,220.25 365.40,220.25 365.40,237.00 367.30,237.00 367.30,253.75 370.50,253.75 370.50,270.50 378.00,270.50 378.00,287.25 401.90,287.25 401.90,304.00" fill="none" stroke="#6e4a6c" stroke-width="1.5" stroke-linejoin="miter"/>
<line x1="365.40" y1="235.80" x2="365.40" y2="238.20" stroke="#111" stroke-width="0.9" />
<line x1="367.30" y1="252.55" x2="367.30" y2="254.95" stroke="#111" stroke-width="0.9" />
<line x1="370.50" y1="269.30" x2="370.50" y2="271.70" stroke="#111" stroke-width="0.9" />
<line x1="378.00" y1="286.05" x2="378.00" y2="288.45" stroke="#111" stroke-width="0.9" />
<polyline points="318.75,220.25 360.50,220.25 360.50,237.00 367.30,237.00 367.30,253.75 370.80,253.75 370.80,270.50 371.80,270.50 371.80,287.25 372.80,287.25 372.80,304.00" fill="none" stroke="#a6303f" stroke-width="1.5" stroke-linejoin="miter"/>
<line x1="360.50" y1="235.80" x2="360.50" y2="238.20" stroke="#111" stroke-width="0.9" />
<line x1="367.30" y1="252.55" x2="367.30" y2="254.95" stroke="#111" stroke-width="0.9" />
<line x1="370.80" y1="269.30" x2="370.80" y2="271.70" stroke="#111" stroke-width="0.9" />
<line x1="371.80" y1="286.05" x2="371.80" y2="288.45" stroke="#111" stroke-width="0.9" />
<line x1="450.00" y1="234.60" x2="463.80" y2="234.60" stroke="#a6303f" stroke-width="1.5" />
<line x1="456.30" y1="232.80" x2="456.30" y2="234.80" stroke="#111" stroke-width="1.0" />
<text x="466.80" y="237.20" font-size="7.6" text-anchor="start" fill="#231f20" textLength="23.40" lengthAdjust="spacingAndGlyphs" >Control</text>
<line x1="450.00" y1="247.90" x2="463.80" y2="247.90" stroke="#6e4a6c" stroke-width="1.5" />
<line x1="456.30" y1="246.10" x2="456.30" y2="248.10" stroke="#111" stroke-width="1.0" />
<text x="466.80" y="250.50" font-size="7.6" text-anchor="start" fill="#231f20" textLength="17.20" lengthAdjust="spacingAndGlyphs" >Ara-C</text>
<line x1="450.00" y1="261.20" x2="463.80" y2="261.20" stroke="#4a6088" stroke-width="1.5" />
<line x1="456.30" y1="259.40" x2="456.30" y2="261.40" stroke="#111" stroke-width="1.0" />
<text x="466.80" y="263.80" font-size="7.6" text-anchor="start" fill="#231f20" textLength="34.80" lengthAdjust="spacingAndGlyphs" >Atuveciclib</text>
<line x1="450.00" y1="274.50" x2="463.80" y2="274.50" stroke="#72ab4f" stroke-width="1.5" />
<line x1="456.30" y1="272.70" x2="456.30" y2="274.70" stroke="#111" stroke-width="1.0" />
<text x="466.80" y="277.10" font-size="7.6" text-anchor="start" fill="#231f20" textLength="40.60" lengthAdjust="spacingAndGlyphs" >Ara-C + Atuv</text>
<line x1="59.50" y1="371.30" x2="59.50" y2="457.50" stroke="#231f20" stroke-width="1.0" />
<line x1="56.50" y1="378.80" x2="59.50" y2="378.80" stroke="#231f20" stroke-width="1" />
<text x="53.90" y="381.10" font-size="7.8" text-anchor="end" fill="#231f20" textLength="9.80" lengthAdjust="spacingAndGlyphs" >1.0</text>
<line x1="56.50" y1="418.00" x2="59.50" y2="418.00" stroke="#231f20" stroke-width="1" />
<text x="53.90" y="420.30" font-size="7.8" text-anchor="end" fill="#231f20" textLength="9.80" lengthAdjust="spacingAndGlyphs" >0.5</text>
<line x1="56.50" y1="457.00" x2="59.50" y2="457.00" stroke="#231f20" stroke-width="1" />
<text x="53.90" y="459.30" font-size="7.8" text-anchor="end" fill="#231f20" textLength="9.80" lengthAdjust="spacingAndGlyphs" >0.0</text>
<line x1="59.50" y1="457.30" x2="189.50" y2="457.30" stroke="#231f20" stroke-width="1.1" />
<text x="124.30" y="365.00" font-size="9.2" text-anchor="middle" fill="#231f20" textLength="17.60" lengthAdjust="spacingAndGlyphs" >MYC</text>
<text x="36.80" y="414.50" font-size="8.3" text-anchor="middle" fill="#231f20" textLength="48.50" lengthAdjust="spacingAndGlyphs" transform="rotate(-90 36.80 414.50)" >Fold change</text>
<line x1="64.90" y1="378.30" x2="86.10" y2="378.30" stroke="#231f20" stroke-width="1.2" />
<line x1="75.50" y1="372.50" x2="75.50" y2="383.30" stroke="#231f20" stroke-width="1.1" />
<line x1="69.90" y1="372.50" x2="81.10" y2="372.50" stroke="#231f20" stroke-width="1.1" />
<line x1="69.90" y1="383.30" x2="81.10" y2="383.30" stroke="#231f20" stroke-width="1.1" />
<circle cx="75.50" cy="372.50" r="1.80" fill="#a6303f"/>
<circle cx="75.50" cy="381.80" r="1.80" fill="#a6303f"/>
<circle cx="75.50" cy="391.20" r="1.80" fill="#a6303f"/>
<line x1="97.10" y1="395.50" x2="118.90" y2="395.50" stroke="#231f20" stroke-width="1.2" />
<line x1="108.00" y1="381.30" x2="108.00" y2="410.50" stroke="#231f20" stroke-width="1.1" />
<line x1="102.40" y1="381.30" x2="113.60" y2="381.30" stroke="#231f20" stroke-width="1.1" />
<line x1="102.40" y1="410.50" x2="113.60" y2="410.50" stroke="#231f20" stroke-width="1.1" />
<rect x="106.25" y="398.25" width="3.50" height="3.50" fill="#6e4a6c"/>
<rect x="106.25" y="409.45" width="3.50" height="3.50" fill="#6e4a6c"/>
<rect x="106.25" y="416.25" width="3.50" height="3.50" fill="#6e4a6c"/>
<line x1="129.40" y1="445.50" x2="150.60" y2="445.50" stroke="#231f20" stroke-width="1.2" />
<line x1="140.00" y1="443.00" x2="140.00" y2="448.00" stroke="#231f20" stroke-width="1.1" />
<line x1="134.80" y1="443.00" x2="145.20" y2="443.00" stroke="#231f20" stroke-width="1.1" />
<line x1="134.80" y1="448.00" x2="145.20" y2="448.00" stroke="#231f20" stroke-width="1.1" />
<polygon points="137.50,437.81 139.59,441.86 135.41,441.86" fill="#4a6088"/>
<polygon points="143.00,441.51 145.09,445.56 140.91,445.56" fill="#4a6088"/>
<polygon points="137.20,448.51 139.29,452.56 135.11,452.56" fill="#4a6088"/>
<polygon points="143.00,447.81 145.09,451.86 140.91,451.86" fill="#4a6088"/>
<line x1="161.90" y1="445.50" x2="183.10" y2="445.50" stroke="#231f20" stroke-width="1.2" />
<line x1="172.50" y1="442.50" x2="172.50" y2="448.20" stroke="#231f20" stroke-width="1.1" />
<line x1="167.30" y1="442.50" x2="177.70" y2="442.50" stroke="#231f20" stroke-width="1.1" />
<line x1="167.30" y1="448.20" x2="177.70" y2="448.20" stroke="#231f20" stroke-width="1.1" />
<polygon points="172.50,440.19 174.59,436.14 170.41,436.14" fill="#72ab4f"/>
<polygon points="175.00,448.38 177.09,444.34 172.91,444.34" fill="#72ab4f"/>
<polygon points="170.00,452.88 172.09,448.84 167.91,448.84" fill="#72ab4f"/>
<line x1="75.50" y1="457.00" x2="75.50" y2="460.00" stroke="#231f20" stroke-width="1" />
<text x="80.50" y="467.60" font-size="7.7" text-anchor="end" fill="#231f20" textLength="24.60" lengthAdjust="spacingAndGlyphs" transform="rotate(-45 80.50 467.60)" >Control</text>
<line x1="108.00" y1="457.00" x2="108.00" y2="460.00" stroke="#231f20" stroke-width="1" />
<text x="113.00" y="467.60" font-size="7.7" text-anchor="end" fill="#231f20" textLength="17.80" lengthAdjust="spacingAndGlyphs" transform="rotate(-45 113.00 467.60)" >Ara-C</text>
<line x1="140.00" y1="457.00" x2="140.00" y2="460.00" stroke="#231f20" stroke-width="1" />
<text x="144.40" y="466.60" font-size="7.7" text-anchor="end" fill="#231f20" textLength="36.30" lengthAdjust="spacingAndGlyphs" transform="rotate(-45 144.40 466.60)" >Atuveciclib</text>
<line x1="172.50" y1="457.00" x2="172.50" y2="460.00" stroke="#231f20" stroke-width="1" />
<text x="175.90" y="466.60" font-size="7.7" text-anchor="end" fill="#231f20" textLength="42.80" lengthAdjust="spacingAndGlyphs" transform="rotate(-45 175.90 466.60)" >Ara-C + Atuv</text>
<line x1="318.75" y1="371.30" x2="318.75" y2="460.70" stroke="#231f20" stroke-width="1.0" />
<line x1="315.75" y1="374.30" x2="318.75" y2="374.30" stroke="#231f20" stroke-width="1" />
<text x="313.15" y="376.60" font-size="7.8" text-anchor="end" fill="#231f20" textLength="9.80" lengthAdjust="spacingAndGlyphs" >1.5</text>
<line x1="315.75" y1="403.00" x2="318.75" y2="403.00" stroke="#231f20" stroke-width="1" />
<text x="313.15" y="405.30" font-size="7.8" text-anchor="end" fill="#231f20" textLength="9.80" lengthAdjust="spacingAndGlyphs" >1.0</text>
<line x1="315.75" y1="431.60" x2="318.75" y2="431.60" stroke="#231f20" stroke-width="1" />
<text x="313.15" y="433.90" font-size="7.8" text-anchor="end" fill="#231f20" textLength="9.80" lengthAdjust="spacingAndGlyphs" >0.5</text>
<line x1="315.75" y1="460.20" x2="318.75" y2="460.20" stroke="#231f20" stroke-width="1" />
<text x="313.15" y="462.50" font-size="7.8" text-anchor="end" fill="#231f20" textLength="9.80" lengthAdjust="spacingAndGlyphs" >0.0</text>
<line x1="318.75" y1="460.50" x2="448.50" y2="460.50" stroke="#231f20" stroke-width="1.1" />
<text x="383.40" y="365.30" font-size="9.2" text-anchor="middle" fill="#231f20" textLength="19.30" lengthAdjust="spacingAndGlyphs" >PIM1</text>
<text x="295.80" y="417.60" font-size="8.3" text-anchor="middle" fill="#231f20" textLength="48.50" lengthAdjust="spacingAndGlyphs" transform="rotate(-90 295.80 417.60)" >Fold change</text>
<line x1="323.90" y1="402.50" x2="345.10" y2="402.50" stroke="#231f20" stroke-width="1.2" />
<line x1="334.50" y1="397.50" x2="334.50" y2="407.50" stroke="#231f20" stroke-width="1.1" />
<line x1="329.10" y1="397.50" x2="339.90" y2="397.50" stroke="#231f20" stroke-width="1.1" />
<line x1="329.10" y1="407.50" x2="339.90" y2="407.50" stroke="#231f20" stroke-width="1.1" />
<circle cx="334.50" cy="387.00" r="1.80" fill="#a6303f"/>
<circle cx="332.00" cy="410.80" r="1.80" fill="#a6303f"/>
<circle cx="334.80" cy="405.50" r="1.80" fill="#a6303f"/>
<circle cx="337.20" cy="407.00" r="1.80" fill="#a6303f"/>
<line x1="356.20" y1="425.00" x2="377.40" y2="425.00" stroke="#231f20" stroke-width="1.2" />
<line x1="366.80" y1="413.80" x2="366.80" y2="436.80" stroke="#231f20" stroke-width="1.1" />
<line x1="361.20" y1="413.80" x2="372.40" y2="413.80" stroke="#231f20" stroke-width="1.1" />
<line x1="361.20" y1="436.80" x2="372.40" y2="436.80" stroke="#231f20" stroke-width="1.1" />
<rect x="365.05" y="393.75" width="3.50" height="3.50" fill="#6e4a6c"/>
<rect x="365.05" y="417.55" width="3.50" height="3.50" fill="#6e4a6c"/>
<rect x="365.05" y="436.55" width="3.50" height="3.50" fill="#6e4a6c"/>
<rect x="365.05" y="445.75" width="3.50" height="3.50" fill="#6e4a6c"/>
<line x1="388.50" y1="442.10" x2="409.90" y2="442.10" stroke="#231f20" stroke-width="1.2" />
<line x1="399.20" y1="438.70" x2="399.20" y2="445.80" stroke="#231f20" stroke-width="1.1" />
<line x1="393.60" y1="438.70" x2="404.80" y2="438.70" stroke="#231f20" stroke-width="1.1" />
<line x1="393.60" y1="445.80" x2="404.80" y2="445.80" stroke="#231f20" stroke-width="1.1" />
<polygon points="399.20,432.21 401.29,436.26 397.11,436.26" fill="#4a6088"/>
<polygon points="394.00,441.31 396.09,445.36 391.91,445.36" fill="#4a6088"/>
<polygon points="404.20,443.21 406.29,447.26 402.11,447.26" fill="#4a6088"/>
<polygon points="399.20,445.12 401.29,449.16 397.11,449.16" fill="#4a6088"/>
<line x1="420.80" y1="447.70" x2="442.20" y2="447.70" stroke="#231f20" stroke-width="1.2" />
<line x1="431.50" y1="444.40" x2="431.50" y2="451.50" stroke="#231f20" stroke-width="1.1" />
<line x1="425.90" y1="444.40" x2="437.10" y2="444.40" stroke="#231f20" stroke-width="1.1" />
<line x1="425.90" y1="451.50" x2="437.10" y2="451.50" stroke="#231f20" stroke-width="1.1" />
<polygon points="428.70,441.79 430.79,437.74 426.61,437.74" fill="#72ab4f"/>
<polygon points="434.00,446.79 436.09,442.74 431.91,442.74" fill="#72ab4f"/>
<polygon points="428.70,455.88 430.79,451.84 426.61,451.84" fill="#72ab4f"/>
<polygon points="434.00,455.19 436.09,451.14 431.91,451.14" fill="#72ab4f"/>
<line x1="334.50" y1="460.20" x2="334.50" y2="463.20" stroke="#231f20" stroke-width="1" />
<text x="339.50" y="470.80" font-size="7.7" text-anchor="end" fill="#231f20" textLength="24.60" lengthAdjust="spacingAndGlyphs" transform="rotate(-45 339.50 470.80)" >Control</text>
<line x1="366.80" y1="460.20" x2="366.80" y2="463.20" stroke="#231f20" stroke-width="1" />
<text x="371.80" y="470.80" font-size="7.7" text-anchor="end" fill="#231f20" textLength="17.80" lengthAdjust="spacingAndGlyphs" transform="rotate(-45 371.80 470.80)" >Ara-C</text>
<line x1="399.20" y1="460.20" x2="399.20" y2="463.20" stroke="#231f20" stroke-width="1" />
<text x="403.60" y="469.80" font-size="7.7" text-anchor="end" fill="#231f20" textLength="36.30" lengthAdjust="spacingAndGlyphs" transform="rotate(-45 403.60 469.80)" >Atuveciclib</text>
<line x1="431.50" y1="460.20" x2="431.50" y2="463.20" stroke="#231f20" stroke-width="1" />
<text x="434.90" y="469.80" font-size="7.7" text-anchor="end" fill="#231f20" textLength="42.80" lengthAdjust="spacingAndGlyphs" transform="rotate(-45 434.90 469.80)" >Ara-C + Atuv</text>
<text x="34.80" y="548.30" font-size="7.8" text-anchor="middle" fill="#231f20" textLength="25.50" lengthAdjust="spacingAndGlyphs" >Control</text>
<line x1="17.50" y1="553.30" x2="52.00" y2="553.30" stroke="#3a3a3a" stroke-width="1.1" />
<text x="75.00" y="548.30" font-size="7.8" text-anchor="middle" fill="#231f20" textLength="19.20" lengthAdjust="spacingAndGlyphs" >Ara-C</text>
<line x1="57.50" y1="553.30" x2="92.00" y2="553.30" stroke="#3a3a3a" stroke-width="1.1" />
<text x="114.60" y="548.30" font-size="7.8" text-anchor="middle" fill="#231f20" textLength="36.80" lengthAdjust="spacingAndGlyphs" >Atuveciclib</text>
<line x1="96.30" y1="553.30" x2="131.80" y2="553.30" stroke="#3a3a3a" stroke-width="1.1" />
<text x="144.00" y="539.30" font-size="7.8" text-anchor="start" fill="#231f20" textLength="25.20" lengthAdjust="spacingAndGlyphs" >Ara-C +</text>
<text x="144.00" y="548.30" font-size="7.8" text-anchor="start" fill="#231f20" textLength="15.20" lengthAdjust="spacingAndGlyphs" >Atuv</text>
<line x1="140.80" y1="553.30" x2="175.00" y2="553.30" stroke="#3a3a3a" stroke-width="1.1" />
<rect x="13.60" y="563.70" width="166.40" height="19.80" fill="#e8e8e8" stroke="#2a2a2a" stroke-width="1.1" />
<rect x="16.40" y="576.10" width="11.4" height="2.4" rx="1.2" fill="rgb(95,95,95)" filter="url(#bl)"/>
<rect x="29.95" y="576.10" width="11.4" height="2.4" rx="1.2" fill="rgb(165,165,165)" filter="url(#bl)"/>
<rect x="43.50" y="575.90" width="11.4" height="2.4" rx="1.2" fill="rgb(120,120,120)" filter="url(#bl)"/>
<rect x="57.05" y="575.80" width="11.4" height="2.4" rx="1.2" fill="rgb(110,110,110)" filter="url(#bl)"/>
<rect x="70.60" y="575.50" width="11.4" height="2.4" rx="1.2" fill="rgb(65,65,65)" filter="url(#bl)"/>
<rect x="84.15" y="575.30" width="11.4" height="2.4" rx="1.2" fill="rgb(100,100,100)" filter="url(#bl)"/>
<rect x="97.70" y="574.90" width="11.4" height="2.4" rx="1.2" fill="rgb(185,185,185)" filter="url(#bl)"/>
<rect x="111.25" y="574.90" width="11.4" height="2.4" rx="1.2" fill="rgb(90,90,90)" filter="url(#bl)"/>
<rect x="124.80" y="574.40" width="11.4" height="2.4" rx="1.2" fill="rgb(140,140,140)" filter="url(#bl)"/>
<rect x="138.35" y="574.40" width="11.4" height="2.4" rx="1.2" fill="rgb(140,140,140)" filter="url(#bl)"/>
<rect x="151.90" y="573.30" width="11.4" height="2.4" rx="1.2" fill="rgb(125,125,125)" filter="url(#bl)"/>
<rect x="165.45" y="572.80" width="11.4" height="2.4" rx="1.2" fill="rgb(140,140,140)" filter="url(#bl)"/>
<rect x="14.50" y="581.60" width="164.60" height="1.20" fill="#f4f4f4" />
<rect x="13.60" y="596.80" width="166.40" height="17.50" fill="#eaeaea" stroke="#2a2a2a" stroke-width="1.1" />
<rect x="16.40" y="605.95" width="11.4" height="1.7" rx="1.2" fill="rgb(90,90,90)" filter="url(#bl)"/>
<rect x="29.95" y="605.75" width="11.4" height="1.7" rx="1.2" fill="rgb(130,130,130)" filter="url(#bl)"/>
<rect x="43.50" y="605.35" width="11.4" height="1.7" rx="1.2" fill="rgb(130,130,130)" filter="url(#bl)"/>
<rect x="57.05" y="604.85" width="11.4" height="1.7" rx="1.2" fill="rgb(120,120,120)" filter="url(#bl)"/>
<rect x="70.60" y="604.15" width="11.4" height="1.7" rx="1.2" fill="rgb(105,105,105)" filter="url(#bl)"/>
<rect x="84.15" y="603.55" width="11.4" height="1.7" rx="1.2" fill="rgb(100,100,100)" filter="url(#bl)"/>
<rect x="97.70" y="603.15" width="11.4" height="1.7" rx="1.2" fill="rgb(150,150,150)" filter="url(#bl)"/>
<rect x="111.25" y="603.35" width="11.4" height="1.7" rx="1.2" fill="rgb(110,110,110)" filter="url(#bl)"/>
<rect x="124.80" y="604.25" width="11.4" height="1.7" rx="1.2" fill="rgb(130,130,130)" filter="url(#bl)"/>
<rect x="138.35" y="605.05" width="11.4" height="1.7" rx="1.2" fill="rgb(135,135,135)" filter="url(#bl)"/>
<rect x="151.90" y="605.75" width="11.4" height="1.7" rx="1.2" fill="rgb(140,140,140)" filter="url(#bl)"/>
<rect x="165.45" y="605.65" width="11.4" height="1.7" rx="1.2" fill="rgb(115,115,115)" filter="url(#bl)"/>
<rect x="14.50" y="612.40" width="164.60" height="1.20" fill="#f4f4f4" />
<rect x="13.60" y="626.90" width="166.40" height="22.30" fill="#cecece" stroke="#2a2a2a" stroke-width="1.2" />
<rect x="14.4" y="627.8" width="164.8" height="2.2" fill="#e7e7e7" filter="url(#bl)"/>
<rect x="14.4" y="646.6" width="164.8" height="1.8" fill="#e2e2e2" filter="url(#bl)"/>
<rect x="14.4" y="630.5" width="164.8" height="8" fill="#d9d9d9" filter="url(#bl)"/>
<line x1="14.5" y1="642.6" x2="179" y2="640.9" stroke="#484848" stroke-width="1.6" filter="url(#bl)"/>
<line x1="14.5" y1="644.2" x2="179" y2="642.6" stroke="#bdbdbd" stroke-width="1.5" filter="url(#bl)"/>
<rect x="27.10" y="627.8" width="1.8" height="20.8" fill="#e0e0e0" filter="url(#bl)"/>
<rect x="40.95" y="627.8" width="1.8" height="20.8" fill="#e0e0e0" filter="url(#bl)"/>
<rect x="54.80" y="627.8" width="1.8" height="20.8" fill="#e0e0e0" filter="url(#bl)"/>
<rect x="68.65" y="627.8" width="1.8" height="20.8" fill="#e0e0e0" filter="url(#bl)"/>
<rect x="82.50" y="627.8" width="1.8" height="20.8" fill="#e0e0e0" filter="url(#bl)"/>
<rect x="96.35" y="627.8" width="1.8" height="20.8" fill="#e0e0e0" filter="url(#bl)"/>
<rect x="110.20" y="627.8" width="1.8" height="20.8" fill="#e0e0e0" filter="url(#bl)"/>
<rect x="124.05" y="627.8" width="1.8" height="20.8" fill="#e0e0e0" filter="url(#bl)"/>
<rect x="137.90" y="627.8" width="1.8" height="20.8" fill="#e0e0e0" filter="url(#bl)"/>
<rect x="151.75" y="627.8" width="1.8" height="20.8" fill="#e0e0e0" filter="url(#bl)"/>
<rect x="165.60" y="627.8" width="1.8" height="20.8" fill="#e0e0e0" filter="url(#bl)"/>
<ellipse cx="15.7" cy="643.0" rx="1.8" ry="2.8" fill="#111" filter="url(#bl)"/>
<text x="101.30" y="592.30" font-size="7.8" text-anchor="middle" fill="#231f20" textLength="86.50" lengthAdjust="spacingAndGlyphs" >IB: anti-p-rpS6 Ser235/236</text>
<text x="100.00" y="624.00" font-size="7.8" text-anchor="middle" fill="#231f20" textLength="87.50" lengthAdjust="spacingAndGlyphs" >IB: anti-p-rpS6 Ser240/244</text>
<text x="93.40" y="659.30" font-size="7.8" text-anchor="middle" fill="#231f20" textLength="39.20" lengthAdjust="spacingAndGlyphs" >IB: anti-rps6</text>
<line x1="184.00" y1="573.20" x2="194.60" y2="573.20" stroke="#231f20" stroke-width="1.1" />
<polygon points="182,573.2 187.5,570.4000000000001 187.5,576.0" fill="#231f20"/>
<text x="198.30" y="575.30" font-size="7.8" text-anchor="start" fill="#231f20" textLength="17.00" lengthAdjust="spacingAndGlyphs" >rpS6</text>
<line x1="184.00" y1="605.00" x2="194.60" y2="605.00" stroke="#231f20" stroke-width="1.1" />
<polygon points="182,605.0 187.5,602.2 187.5,607.8" fill="#231f20"/>
<text x="198.30" y="607.10" font-size="7.8" text-anchor="start" fill="#231f20" textLength="17.00" lengthAdjust="spacingAndGlyphs" >rpS6</text>
<line x1="184.00" y1="640.70" x2="194.60" y2="640.70" stroke="#231f20" stroke-width="1.1" />
<polygon points="182,640.7 187.5,637.9000000000001 187.5,643.5" fill="#231f20"/>
<text x="198.30" y="642.80" font-size="7.8" text-anchor="start" fill="#231f20" textLength="17.00" lengthAdjust="spacingAndGlyphs" >rpS6</text>
<line x1="252.50" y1="560.30" x2="252.50" y2="641.30" stroke="#4a4a4a" stroke-width="1.6" />
<line x1="249.50" y1="563.80" x2="252.50" y2="563.80" stroke="#231f20" stroke-width="1" />
<text x="246.90" y="566.10" font-size="7.8" text-anchor="end" fill="#231f20" textLength="9.80" lengthAdjust="spacingAndGlyphs" >2.0</text>
<line x1="249.50" y1="583.00" x2="252.50" y2="583.00" stroke="#231f20" stroke-width="1" />
<text x="246.90" y="585.30" font-size="7.8" text-anchor="end" fill="#231f20" textLength="9.80" lengthAdjust="spacingAndGlyphs" >1.5</text>
<line x1="249.50" y1="602.30" x2="252.50" y2="602.30" stroke="#231f20" stroke-width="1" />
<text x="246.90" y="604.60" font-size="7.8" text-anchor="end" fill="#231f20" textLength="9.80" lengthAdjust="spacingAndGlyphs" >1.0</text>
<line x1="249.50" y1="621.50" x2="252.50" y2="621.50" stroke="#231f20" stroke-width="1" />
<text x="246.90" y="623.80" font-size="7.8" text-anchor="end" fill="#231f20" textLength="9.80" lengthAdjust="spacingAndGlyphs" >0.5</text>
<line x1="249.50" y1="640.80" x2="252.50" y2="640.80" stroke="#231f20" stroke-width="1" />
<text x="246.90" y="643.10" font-size="7.8" text-anchor="end" fill="#231f20" textLength="9.80" lengthAdjust="spacingAndGlyphs" >0.0</text>
<line x1="252.50" y1="641.10" x2="367.00" y2="641.10" stroke="#4a4a4a" stroke-width="1.7000000000000002" />
<text x="229.50" y="600.80" font-size="8.3" text-anchor="middle" fill="#231f20" textLength="126.00" lengthAdjust="spacingAndGlyphs" transform="rotate(-90 229.50 600.80)" >Protein expression fold changes</text>
<text x="308.90" y="555.20" font-size="8.3" text-anchor="middle" fill="#231f20" textLength="46.60" lengthAdjust="spacingAndGlyphs" >rpS6 S240/44</text>
<line x1="255.50" y1="602.30" x2="276.10" y2="602.30" stroke="#231f20" stroke-width="1.2" />
<line x1="265.80" y1="594.50" x2="265.80" y2="610.00" stroke="#231f20" stroke-width="1.1" />
<line x1="260.80" y1="594.50" x2="270.80" y2="594.50" stroke="#231f20" stroke-width="1.1" />
<line x1="260.80" y1="610.00" x2="270.80" y2="610.00" stroke="#231f20" stroke-width="1.1" />
<circle cx="263.80" cy="594.50" r="1.80" fill="#a6303f"/>
<circle cx="268.30" cy="595.00" r="1.80" fill="#a6303f"/>
<circle cx="266.30" cy="617.00" r="1.80" fill="#a6303f"/>
<line x1="284.80" y1="600.80" x2="304.40" y2="600.80" stroke="#231f20" stroke-width="1.2" />
<line x1="294.60" y1="594.50" x2="294.60" y2="605.50" stroke="#231f20" stroke-width="1.1" />
<line x1="289.60" y1="594.50" x2="299.60" y2="594.50" stroke="#231f20" stroke-width="1.1" />
<line x1="289.60" y1="605.50" x2="299.60" y2="605.50" stroke="#231f20" stroke-width="1.1" />
<rect x="293.25" y="586.55" width="3.50" height="3.50" fill="#6e4a6c"/>
<rect x="290.75" y="606.55" width="3.50" height="3.50" fill="#6e4a6c"/>
<rect x="295.25" y="603.75" width="3.50" height="3.50" fill="#6e4a6c"/>
<line x1="313.80" y1="606.60" x2="332.80" y2="606.60" stroke="#231f20" stroke-width="1.2" />
<line x1="323.30" y1="594.60" x2="323.30" y2="618.40" stroke="#231f20" stroke-width="1.1" />
<line x1="318.30" y1="594.60" x2="328.30" y2="594.60" stroke="#231f20" stroke-width="1.1" />
<line x1="318.30" y1="618.40" x2="328.30" y2="618.40" stroke="#231f20" stroke-width="1.1" />
<polygon points="323.30,582.52 325.39,586.56 321.21,586.56" fill="#4a6088"/>
<polygon points="323.30,608.62 325.39,612.66 321.21,612.66" fill="#4a6088"/>
<polygon points="323.30,623.12 325.39,627.16 321.21,627.16" fill="#4a6088"/>
<line x1="342.20" y1="627.40" x2="361.80" y2="627.40" stroke="#231f20" stroke-width="1.2" />
<line x1="352.00" y1="626.20" x2="352.00" y2="628.60" stroke="#231f20" stroke-width="1.1" />
<line x1="348.00" y1="626.20" x2="356.00" y2="626.20" stroke="#231f20" stroke-width="1.1" />
<line x1="348.00" y1="628.60" x2="356.00" y2="628.60" stroke="#231f20" stroke-width="1.1" />
<polygon points="348.00,629.18 350.09,625.14 345.91,625.14" fill="#72ab4f"/>
<polygon points="356.00,628.48 358.09,624.44 353.91,624.44" fill="#72ab4f"/>
<polygon points="352.00,631.58 354.09,627.54 349.91,627.54" fill="#72ab4f"/>
<line x1="265.80" y1="640.80" x2="265.80" y2="643.80" stroke="#231f20" stroke-width="1" />
<text x="270.80" y="651.40" font-size="7.7" text-anchor="end" fill="#231f20" textLength="24.60" lengthAdjust="spacingAndGlyphs" transform="rotate(-45 270.80 651.40)" >Control</text>
<line x1="294.60" y1="640.80" x2="294.60" y2="643.80" stroke="#231f20" stroke-width="1" />
<text x="299.60" y="651.40" font-size="7.7" text-anchor="end" fill="#231f20" textLength="17.80" lengthAdjust="spacingAndGlyphs" transform="rotate(-45 299.60 651.40)" >Ara-C</text>
<line x1="323.30" y1="640.80" x2="323.30" y2="643.80" stroke="#231f20" stroke-width="1" />
<text x="327.70" y="650.40" font-size="7.7" text-anchor="end" fill="#231f20" textLength="36.30" lengthAdjust="spacingAndGlyphs" transform="rotate(-45 327.70 650.40)" >Atuveciclib</text>
<line x1="352.00" y1="640.80" x2="352.00" y2="643.80" stroke="#231f20" stroke-width="1" />
<text x="355.40" y="650.40" font-size="7.7" text-anchor="end" fill="#231f20" textLength="42.80" lengthAdjust="spacingAndGlyphs" transform="rotate(-45 355.40 650.40)" >Ara-C + Atuv</text>
<line x1="397.50" y1="557.70" x2="397.50" y2="640.90" stroke="#4a4a4a" stroke-width="1.6" />
<line x1="394.50" y1="560.40" x2="397.50" y2="560.40" stroke="#231f20" stroke-width="1" />
<text x="391.90" y="562.70" font-size="7.8" text-anchor="end" fill="#231f20" textLength="4.25" lengthAdjust="spacingAndGlyphs" >3</text>
<line x1="394.50" y1="587.30" x2="397.50" y2="587.30" stroke="#231f20" stroke-width="1" />
<text x="391.90" y="589.60" font-size="7.8" text-anchor="end" fill="#231f20" textLength="4.25" lengthAdjust="spacingAndGlyphs" >2</text>
<line x1="394.50" y1="614.30" x2="397.50" y2="614.30" stroke="#231f20" stroke-width="1" />
<text x="391.90" y="616.60" font-size="7.8" text-anchor="end" fill="#231f20" textLength="4.25" lengthAdjust="spacingAndGlyphs" >1</text>
<line x1="394.50" y1="640.40" x2="397.50" y2="640.40" stroke="#231f20" stroke-width="1" />
<text x="391.90" y="642.70" font-size="7.8" text-anchor="end" fill="#231f20" textLength="4.25" lengthAdjust="spacingAndGlyphs" >0</text>
<line x1="397.50" y1="640.70" x2="512.50" y2="640.70" stroke="#4a4a4a" stroke-width="1.7000000000000002" />
<text x="382.60" y="600.00" font-size="8.3" text-anchor="middle" fill="#231f20" textLength="126.00" lengthAdjust="spacingAndGlyphs" transform="rotate(-90 382.60 600.00)" >Protein expression fold changes</text>
<text x="454.80" y="554.80" font-size="8.3" text-anchor="middle" fill="#231f20" textLength="47.20" lengthAdjust="spacingAndGlyphs" >rpS6 S235/36</text>
<line x1="402.20" y1="614.30" x2="422.40" y2="614.30" stroke="#231f20" stroke-width="1.2" />
<line x1="412.30" y1="605.90" x2="412.30" y2="623.20" stroke="#231f20" stroke-width="1.1" />
<line x1="407.20" y1="605.90" x2="417.40" y2="605.90" stroke="#231f20" stroke-width="1.1" />
<line x1="407.20" y1="623.20" x2="417.40" y2="623.20" stroke="#231f20" stroke-width="1.1" />
<circle cx="412.30" cy="600.50" r="1.80" fill="#a6303f"/>
<circle cx="412.30" cy="613.50" r="1.80" fill="#a6303f"/>
<circle cx="412.30" cy="630.20" r="1.80" fill="#a6303f"/>
<line x1="432.20" y1="596.00" x2="451.60" y2="596.00" stroke="#231f20" stroke-width="1.2" />
<line x1="441.90" y1="592.70" x2="441.90" y2="599.50" stroke="#231f20" stroke-width="1.1" />
<line x1="436.80" y1="592.70" x2="447.00" y2="592.70" stroke="#231f20" stroke-width="1.1" />
<line x1="436.80" y1="599.50" x2="447.00" y2="599.50" stroke="#231f20" stroke-width="1.1" />
<rect x="440.15" y="587.45" width="3.50" height="3.50" fill="#6e4a6c"/>
<rect x="436.95" y="598.75" width="3.50" height="3.50" fill="#6e4a6c"/>
<rect x="442.85" y="598.75" width="3.50" height="3.50" fill="#6e4a6c"/>
<line x1="460.90" y1="608.60" x2="481.10" y2="608.60" stroke="#231f20" stroke-width="1.2" />
<line x1="471.00" y1="591.40" x2="471.00" y2="625.60" stroke="#231f20" stroke-width="1.1" />
<line x1="465.90" y1="591.40" x2="476.10" y2="591.40" stroke="#231f20" stroke-width="1.1" />
<line x1="465.90" y1="625.60" x2="476.10" y2="625.60" stroke="#231f20" stroke-width="1.1" />
<polygon points="471.00,573.02 473.09,577.06 468.91,577.06" fill="#4a6088"/>
<polygon points="471.00,615.32 473.09,619.36 468.91,619.36" fill="#4a6088"/>
<polygon points="471.00,630.92 473.09,634.96 468.91,634.96" fill="#4a6088"/>
<line x1="491.10" y1="629.60" x2="510.10" y2="629.60" stroke="#231f20" stroke-width="1.2" />
<line x1="500.60" y1="628.60" x2="500.60" y2="630.60" stroke="#231f20" stroke-width="1.1" />
<line x1="496.60" y1="628.60" x2="504.60" y2="628.60" stroke="#231f20" stroke-width="1.1" />
<line x1="496.60" y1="630.60" x2="504.60" y2="630.60" stroke="#231f20" stroke-width="1.1" />
<polygon points="497.00,630.48 499.09,626.44 494.91,626.44" fill="#72ab4f"/>
<polygon points="504.50,630.48 506.59,626.44 502.41,626.44" fill="#72ab4f"/>
<polygon points="500.60,633.18 502.69,629.14 498.51,629.14" fill="#72ab4f"/>
<line x1="412.30" y1="640.40" x2="412.30" y2="643.40" stroke="#231f20" stroke-width="1" />
<text x="417.30" y="651.00" font-size="7.7" text-anchor="end" fill="#231f20" textLength="24.60" lengthAdjust="spacingAndGlyphs" transform="rotate(-45 417.30 651.00)" >Control</text>
<line x1="441.90" y1="640.40" x2="441.90" y2="643.40" stroke="#231f20" stroke-width="1" />
<text x="446.90" y="651.00" font-size="7.7" text-anchor="end" fill="#231f20" textLength="17.80" lengthAdjust="spacingAndGlyphs" transform="rotate(-45 446.90 651.00)" >Ara-C</text>
<line x1="471.00" y1="640.40" x2="471.00" y2="643.40" stroke="#231f20" stroke-width="1" />
<text x="475.40" y="650.00" font-size="7.7" text-anchor="end" fill="#231f20" textLength="36.30" lengthAdjust="spacingAndGlyphs" transform="rotate(-45 475.40 650.00)" >Atuveciclib</text>
<line x1="500.60" y1="640.40" x2="500.60" y2="643.40" stroke="#231f20" stroke-width="1" />
<text x="504.00" y="650.00" font-size="7.7" text-anchor="end" fill="#231f20" textLength="42.80" lengthAdjust="spacingAndGlyphs" transform="rotate(-45 504.00 650.00)" >Ara-C + Atuv</text>
</svg>
</body></html>
